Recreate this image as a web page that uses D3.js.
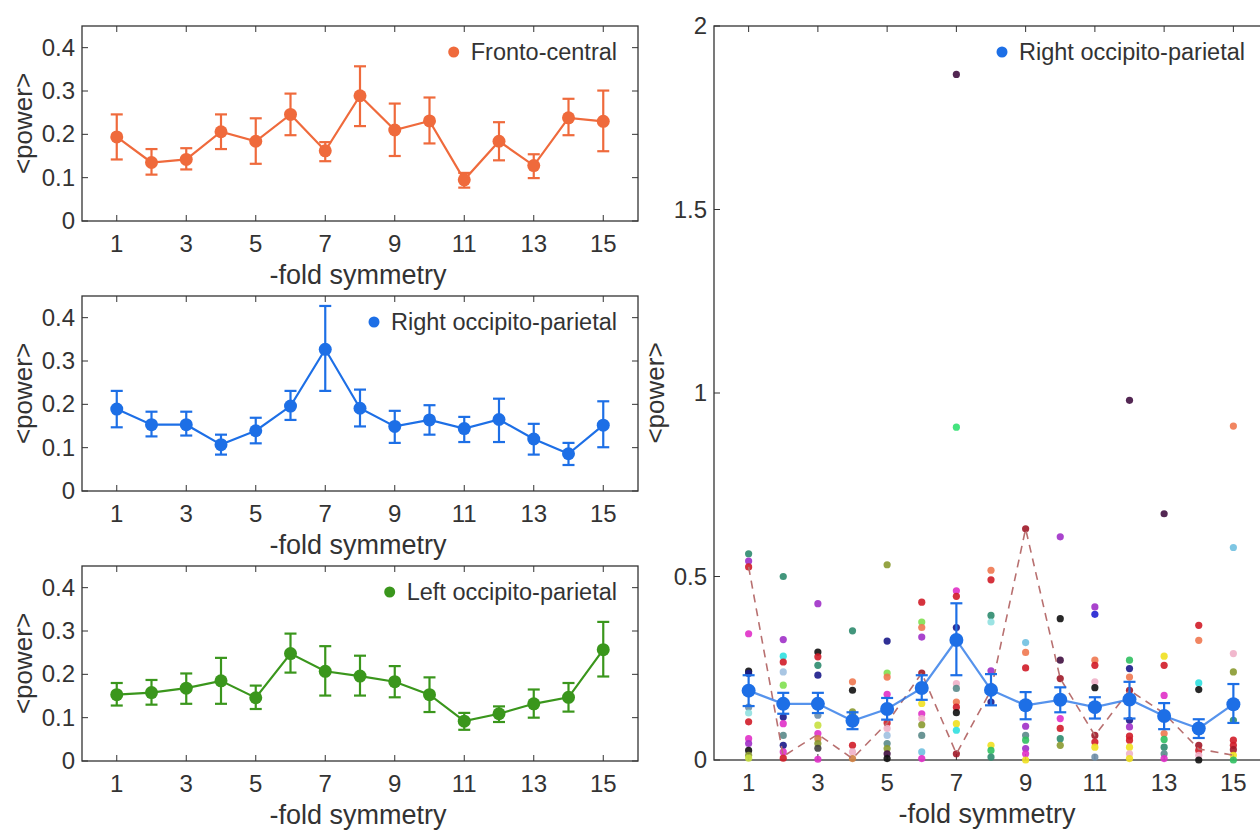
<!DOCTYPE html>
<html><head><meta charset="utf-8">
<script src="https://cdn.jsdelivr.net/npm/d3@7"></script>
<style>
html,body{margin:0;padding:0;background:#fff;overflow:hidden;}
text{font-family:"Liberation Sans",Arial,sans-serif;fill:#333;}
</style></head>
<body>
<svg id="chart" width="1260" height="831"></svg>
<script>
// ---------------- data ----------------
const folds = [1,2,3,4,5,6,7,8,9,10,11,12,13,14,15];
const xTickLabels = [1,3,5,7,9,11,13,15];
const smallYTicks = [0,0.1,0.2,0.3,0.4];
const bigYTicks = [0,0.5,1,1.5,2];

const frontoMean = [0.194,0.135,0.142,0.206,0.184,0.246,0.162,0.289,0.210,0.231,0.095,0.184,0.128,0.238,0.230];
const frontoHi   = [0.246,0.166,0.168,0.246,0.237,0.294,0.182,0.357,0.271,0.285,0.111,0.228,0.154,0.282,0.301];
const frontoLo   = [0.142,0.107,0.119,0.166,0.132,0.198,0.138,0.219,0.150,0.179,0.077,0.140,0.099,0.198,0.161];

const rightMean = [0.189,0.153,0.153,0.107,0.139,0.196,0.327,0.191,0.149,0.164,0.144,0.165,0.120,0.086,0.152];
const rightHi   = [0.231,0.183,0.183,0.130,0.169,0.231,0.427,0.234,0.185,0.198,0.171,0.213,0.155,0.111,0.207];
const rightLo   = [0.147,0.126,0.128,0.084,0.110,0.164,0.231,0.149,0.111,0.130,0.113,0.113,0.084,0.060,0.101];

const leftMean = [0.153,0.158,0.168,0.185,0.146,0.248,0.207,0.196,0.183,0.153,0.092,0.109,0.132,0.147,0.257];
const leftHi   = [0.180,0.187,0.202,0.238,0.174,0.294,0.265,0.243,0.219,0.193,0.111,0.126,0.165,0.180,0.321];
const leftLo   = [0.128,0.130,0.132,0.132,0.120,0.204,0.151,0.151,0.147,0.113,0.072,0.090,0.100,0.114,0.195];

// one highlighted participant (dashed trace)
const dashedSubject = [0.526,0.010,0.070,0.004,0.101,0.237,0.017,0.190,0.630,0.222,0.067,0.190,0.127,0.030,0.013];

// participant colour palette
const subjectColors = ["#2e8b6e","#a030c8","#d01c28","#e030c8","#111111","#1a1a8a","#6f8fa8","#90e0e0",
  "#30e0e0","#a0c0e0","#80e050","#5a8a8a","#c8e040","#d08040","#8a9a30","#404040","#f07850","#a01828",
  "#f0b0c8","#f0e020","#30c060","#401040","#2020d0","#30e070","#70c0e0"];

// individual participant values per fold: [value, colourIndex]
const subjF1  = [[0.562,0],[0.542,1],[0.526,2],[0.344,3],[0.242,4],[0.236,5],[0.144,6],[0.128,7],[0.104,2],[0.058,3],[0.045,1],[0.026,4],[0.013,14],[0.005,12]];
const subjF2  = [[0.500,0],[0.328,1],[0.283,8],[0.267,2],[0.240,9],[0.204,10],[0.117,5],[0.099,3],[0.067,11],[0.040,5],[0.022,3],[0.005,2]];
const subjF3  = [[0.426,1],[0.294,4],[0.281,2],[0.258,0],[0.231,5],[0.122,6],[0.095,12],[0.072,3],[0.058,13],[0.045,14],[0.032,15],[0.002,3]];
const subjF4  = [[0.352,0],[0.213,16],[0.190,4],[0.131,14],[0.125,11],[0.040,2],[0.022,18],[0.004,13]];
const subjF5  = [[0.532,14],[0.324,5],[0.237,10],[0.226,16],[0.179,3],[0.101,2],[0.086,18],[0.067,9],[0.045,11],[0.031,14],[0.017,21],[0.004,4]];
const subjF6  = [[0.430,2],[0.376,10],[0.361,16],[0.335,1],[0.237,17],[0.154,19],[0.126,3],[0.113,18],[0.096,14],[0.067,11],[0.022,24],[0.004,3]];
const subjF7  = [[1.868,21],[0.907,23],[0.461,3],[0.446,2],[0.361,5],[0.208,18],[0.195,11],[0.158,16],[0.144,2],[0.129,4],[0.099,19],[0.081,8],[0.017,17]];
const subjF8  = [[0.517,16],[0.491,2],[0.394,0],[0.376,7],[0.243,1],[0.158,5],[0.040,19],[0.026,20],[0.008,0]];
const subjF9  = [[0.630,17],[0.320,24],[0.293,16],[0.251,2],[0.092,1],[0.067,11],[0.054,20],[0.031,1],[0.017,3],[0.000,19]];
const subjF10 = [[0.608,1],[0.385,4],[0.272,21],[0.222,17],[0.113,3],[0.086,2],[0.058,0],[0.040,14]];
const subjF11 = [[0.417,1],[0.397,22],[0.272,16],[0.258,2],[0.213,18],[0.197,4],[0.067,17],[0.049,2],[0.035,19],[0.008,6]];
const subjF12 = [[0.980,21],[0.272,20],[0.249,5],[0.226,16],[0.190,17],[0.108,5],[0.090,1],[0.065,2],[0.054,2],[0.035,19],[0.017,18],[0.004,19]];
const subjF13 = [[0.671,21],[0.283,19],[0.258,2],[0.176,3],[0.072,16],[0.056,20],[0.035,0],[0.017,11],[0.004,3]];
const subjF14 = [[0.367,2],[0.326,16],[0.210,8],[0.192,4],[0.040,17],[0.026,2],[0.013,18],[0.000,4]];
const subjF15 = [[0.910,16],[0.579,24],[0.290,18],[0.240,14],[0.108,0],[0.054,2],[0.040,2],[0.028,17],[0.013,19],[0.000,20]];
const subjectsByFold = [subjF1,subjF2,subjF3,subjF4,subjF5,subjF6,subjF7,subjF8,subjF9,subjF10,subjF11,subjF12,subjF13,subjF14,subjF15];

const labels = {x:"-fold symmetry", y:"<power>", fronto:"Fronto-central", right:"Right occipito-parietal", left:"Left occipito-parietal"};

// ---------------- drawing ----------------
const svg = d3.select("#chart");
const AXIS = "#333";

function frame(g, x, y, yTicks, yFmt, titleX) {
  const [x0,x1] = x.range(); const [y0,y1] = y.range();
  const tl = 6;
  xTickLabels.forEach(t => {
    g.append("line").attr("x1",x(t)).attr("x2",x(t)).attr("y1",y0).attr("y2",y0-tl).attr("stroke",AXIS);
    g.append("line").attr("x1",x(t)).attr("x2",x(t)).attr("y1",y1).attr("y2",y1+tl).attr("stroke",AXIS);
  });
  yTicks.forEach(t => {
    g.append("line").attr("x1",x0).attr("x2",x0+tl).attr("y1",y(t)).attr("y2",y(t)).attr("stroke",AXIS);
    g.append("line").attr("x1",x1).attr("x2",x1-tl).attr("y1",y(t)).attr("y2",y(t)).attr("stroke",AXIS);
  });
  g.append("rect").attr("x",x0).attr("y",y1).attr("width",x1-x0).attr("height",y0-y1)
    .attr("fill","none").attr("stroke",AXIS).attr("stroke-width",1.3);
  g.selectAll(null).data(xTickLabels).enter().append("text")
    .attr("x",d=>x(d)).attr("y",y0+31).attr("text-anchor","middle").attr("font-size",24).attr("fill","#3a3a3a").text(d=>d);
  g.selectAll(null).data(yTicks).enter().append("text")
    .attr("x",x0-7).attr("y",d=>y(d)+8).attr("text-anchor","end").attr("font-size",24).attr("fill","#3a3a3a").text(yFmt);
  g.append("text").attr("x",titleX).attr("y",y0+63).attr("text-anchor","middle")
    .attr("font-size",27).attr("fill","#3a3a3a").text(labels.x);
  g.append("text").attr("transform",`translate(${x0-50},${(y0+y1)/2}) rotate(-90)`)
    .attr("text-anchor","middle").attr("font-size",26).attr("fill","#3a3a3a").text(labels.y);
}

function meanSeries(g, x, y, mean, hi, lo, color, r, lineOpacity) {
  const line = d3.line().x((d,i)=>x(folds[i])).y(d=>y(d));
  g.append("path").attr("d",line(mean)).attr("fill","none").attr("stroke",color)
    .attr("stroke-width",2.2).attr("stroke-opacity",lineOpacity);
  const cw = 6;
  folds.forEach((f,i) => {
    const cx = x(f);
    g.append("line").attr("x1",cx).attr("x2",cx).attr("y1",y(hi[i])).attr("y2",y(lo[i])).attr("stroke",color).attr("stroke-width",2.2);
    g.append("line").attr("x1",cx-cw).attr("x2",cx+cw).attr("y1",y(hi[i])).attr("y2",y(hi[i])).attr("stroke",color).attr("stroke-width",2.2);
    g.append("line").attr("x1",cx-cw).attr("x2",cx+cw).attr("y1",y(lo[i])).attr("y2",y(lo[i])).attr("stroke",color).attr("stroke-width",2.2);
  });
  g.selectAll(null).data(mean).enter().append("circle")
    .attr("cx",(d,i)=>x(folds[i])).attr("cy",d=>y(d)).attr("r",r).attr("fill",color);
}

function legend(g, xRight, yc, color, text) {
  const t = g.append("text").attr("x",xRight).attr("y",yc+8).attr("text-anchor","end")
    .attr("font-size",23.5).attr("fill","#222").text(text);
  const w = t.node().getComputedTextLength();
  g.append("circle").attr("cx",xRight-w-17).attr("cy",yc).attr("r",5.5).attr("fill",color);
}

const panels = [
  {top:26,  mean:frontoMean, hi:frontoHi, lo:frontoLo, color:"#ef6a3c", lab:labels.fronto},
  {top:296, mean:rightMean,  hi:rightHi,  lo:rightLo,  color:"#1d6fe6", lab:labels.right},
  {top:566, mean:leftMean,   hi:leftHi,   lo:leftLo,   color:"#3a961c", lab:labels.left},
];
const L = 82, R = 638, H = 195;
panels.forEach(p => {
  const g = svg.append("g");
  const x = d3.scaleLinear().domain([0,16]).range([L,R]);
  const y = d3.scaleLinear().domain([0,0.45]).range([p.top+H,p.top]);
  frame(g, x, y, smallYTicks, d=>d===0?"0":d3.format(".1f")(d), 358);
  meanSeries(g, x, y, p.mean, p.hi, p.lo, p.color, 6.5, 1);
  legend(g, 617, p.top+26, p.color, p.lab);
});

// big right panel
{
  const g = svg.append("g");
  const x = d3.scaleLinear().domain([0,16]).range([714,1268]);
  const y = d3.scaleLinear().domain([0,2]).range([760,26]);
  frame(g, x, y, bigYTicks, d=>String(d), 987);
  const pts = [];
  subjectsByFold.forEach((arr,i) => arr.forEach(([v,c]) => pts.push({f:folds[i], v, c})));
  g.selectAll(null).data(pts).enter().append("circle")
    .attr("cx",d=>x(d.f)).attr("cy",d=>y(d.v)).attr("r",3.6)
    .attr("fill",d=>subjectColors[d.c]).attr("fill-opacity",0.9);
  g.append("path").attr("d",d3.line().x((d,i)=>x(folds[i])).y(d=>y(d))(dashedSubject))
    .attr("fill","none").attr("stroke","#b87070").attr("stroke-width",1.6).attr("stroke-dasharray","8,6");
  meanSeries(g, x, y, rightMean, rightHi, rightLo, "#1d6fe6", 7, 0.75);
  const lg = g.append("g");
  lg.append("rect").attr("x",988).attr("y",36).attr("width",266).attr("height",34).attr("fill","#fff").attr("fill-opacity",0.8);
  legend(lg, 1245, 52, "#1d6fe6", labels.right);
}
</script>
</body></html>
